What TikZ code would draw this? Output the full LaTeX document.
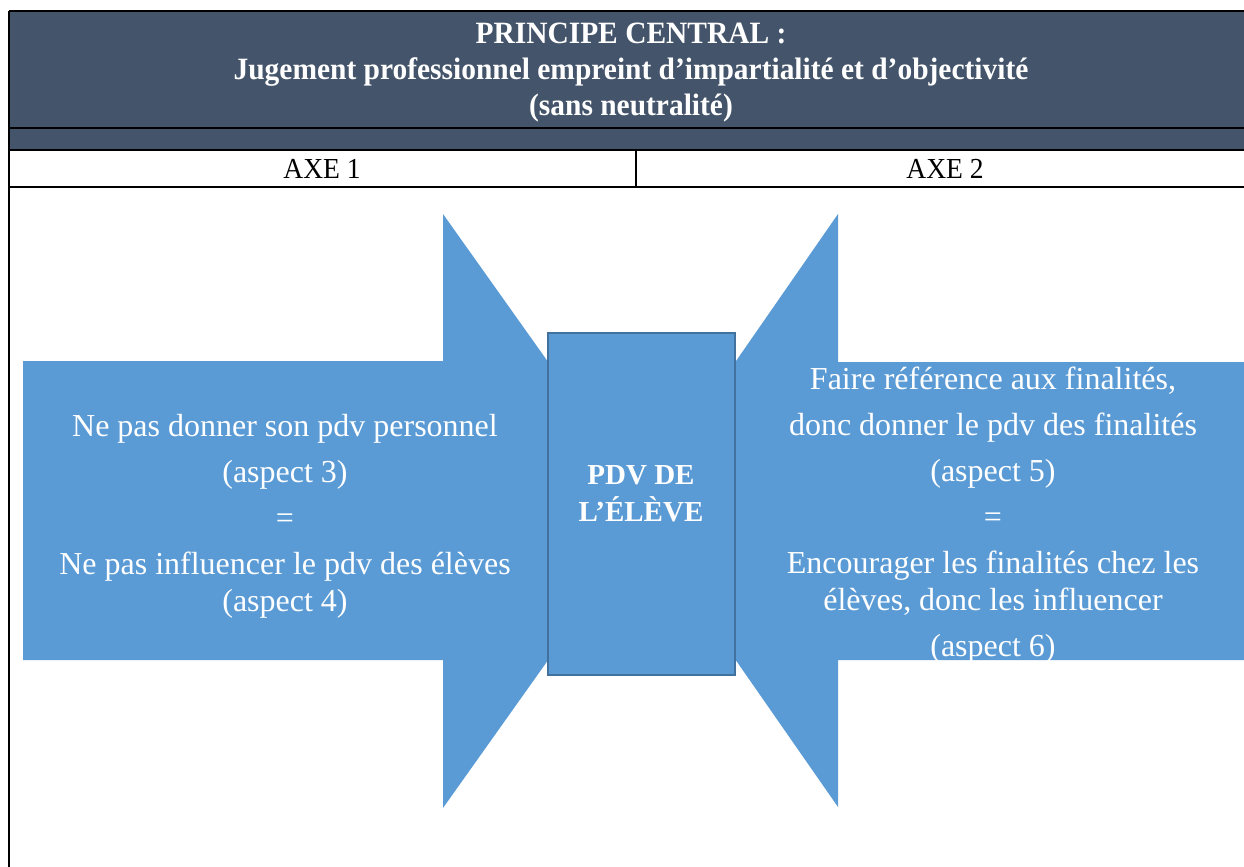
\documentclass[tikz,border=0pt]{standalone}
\usepackage{fontspec}
\setmainfont{Liberation Serif}
\newfontfamily\headfont[FakeStretch=0.95]{Liberation Serif}
\usepackage{tikz}
\usetikzlibrary{positioning, calc}
\definecolor{headslate}{HTML}{44546A}
\definecolor{axeblue}{HTML}{5B9BD5}
\definecolor{axeedge}{HTML}{41719C}

\begin{document}
\begin{tikzpicture}[
  x=0.5pt, y=-0.5pt,
  rule/.style={line width=1.2pt, black},
  thinrule/.style={line width=0.8pt, black},
  headtxt/.style={text=white, align=center, inner sep=0pt,
    font=\headfont\fontsize{15.5}{18}\selectfont\bfseries},
  axetxt/.style={inner sep=0pt, font=\headfont\fontsize{14.5}{16}\selectfont},
  bodytxt/.style={text=white, align=center, inner sep=0pt,
    font=\fontsize{16}{18.5}\selectfont},
  pdvbox/.style={draw=axeedge, fill=axeblue, line width=1pt,
    minimum width=93.5pt, minimum height=171pt},
  pdvtxt/.style={text=white, align=center, inner sep=0pt,
    font=\fontsize{14.5}{18.5}\selectfont\bfseries}
]
\useasboundingbox (0,0) rectangle (1244,867);
\clip (0,0) rectangle (1244,867);

% en-tete du tableau
\fill[headslate] (9,11) rectangle (1254,150);
\node[headtxt] (princ) at (631,73) {PRINCIPE CENTRAL :\\
  Jugement professionnel empreint d’impartialité et d’objectivité\\
  (sans neutralité)};

\node[axetxt] (axe1) at (322,169) {AXE 1};
\node[axetxt] (axe2) at (945,169) {AXE 2};

% grille
\draw[rule] (9,11) -- (1254,11);
\draw[rule] (9,128) -- (1254,128);
\draw[rule] (9,150) -- (1254,150);
\draw[rule] (9,187) -- (1254,187);
\draw[rule] (9,11) -- (9,867);
\draw[thinrule] (636,150) -- (636,187);

% fleches
\fill[axeblue] (23,361) -- (443,361) -- (443,214) -- (654,511)
  -- (443,808) -- (443,660) -- (23,660) -- cycle;
\fill[axeblue] (1250,362) -- (838,362) -- (838,214) -- (632,511)
  -- (838,807) -- (838,660) -- (1250,660) -- cycle;

\node[pdvbox] (pdv) at (641.5,504) {};
\node[pdvtxt] (pdvlbl) at (641,494) {PDV DE\\L’ÉLÈVE};

\node[bodytxt] (ax1txt) at (285,516) {Ne pas donner son pdv personnel\\[4.5pt]
  (aspect 3)\\[4.5pt]
  =\\[4.5pt]
  Ne pas influencer le pdv des élèves\\
  (aspect 4)};
\node[bodytxt] (ax2txt) at (993,515) {Faire référence aux finalités,\\[4.5pt]
  donc donner le pdv des finalités\\[4.5pt]
  (aspect 5)\\[4.5pt]
  =\\[4.5pt]
  Encourager les finalités chez les\\
  élèves, donc les influencer\\[4.5pt]
  (aspect 6)};
\end{tikzpicture}
\end{document}
